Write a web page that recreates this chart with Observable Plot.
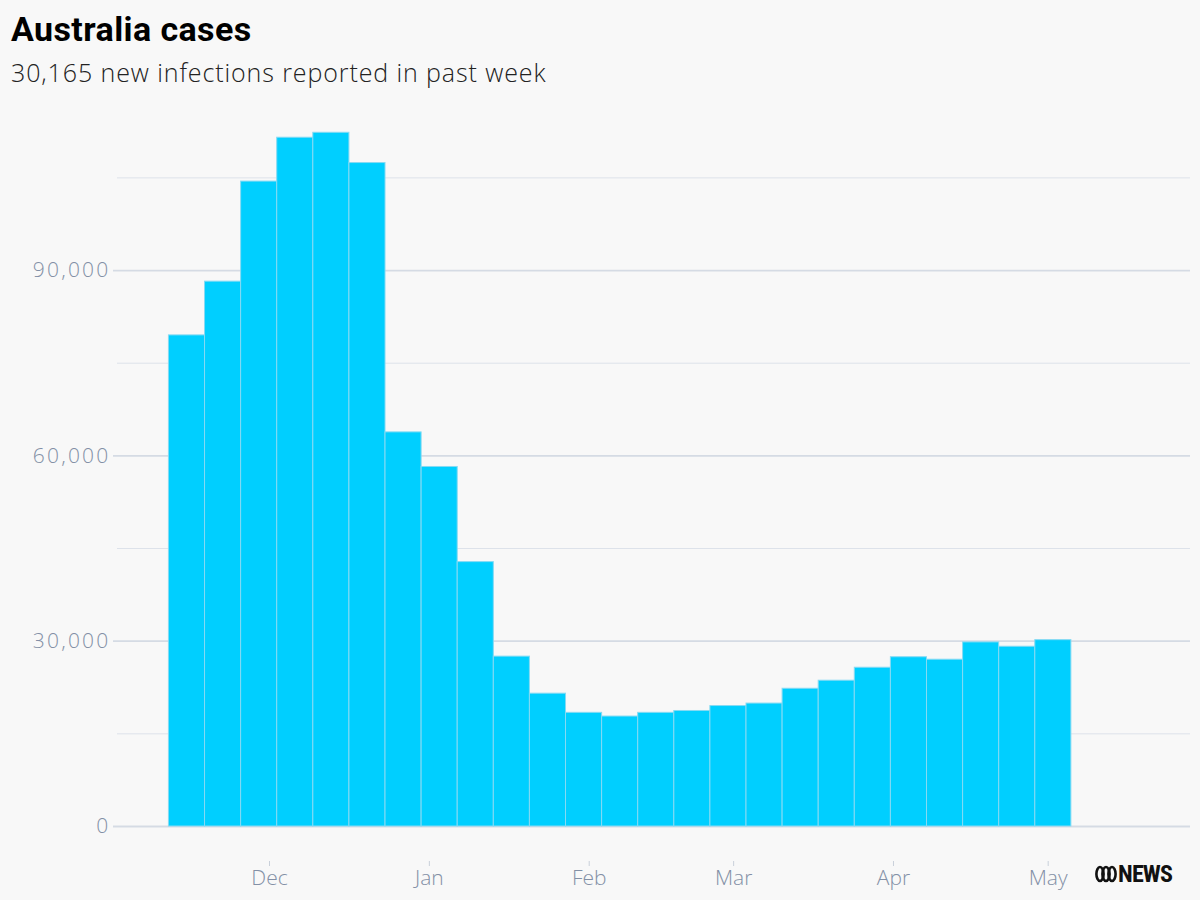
<!DOCTYPE html>
<html>
<head>
<meta charset="utf-8">
<script src="https://cdn.jsdelivr.net/npm/d3@7"></script>
<script src="https://cdn.jsdelivr.net/npm/@observablehq/plot@0.6"></script>
<style>
  html, body { margin: 0; padding: 0; background: #f8f8f8; width: 1200px; height: 900px; overflow: hidden; }
  #wrap { position: relative; width: 1200px; height: 900px; font-family: Roboto, "Open Sans", sans-serif; }
  #title { position: absolute; left: 11px; top: 9px; font-size: 34px; font-weight: 700; color: #000; letter-spacing: 0.4px; line-height: 40px; white-space: nowrap; }
  #subtitle { position: absolute; left: 11px; top: 55px; font-family: "Open Sans", sans-serif; font-size: 25px; font-weight: 300; color: #222; letter-spacing: 0.9px; line-height: 34px; white-space: nowrap; }
  #chart { position: absolute; left: 0; top: 100px; }
  #logo { position: absolute; left: 1095px; top: 862px; display: flex; align-items: center; font-family: "Roboto Condensed", Roboto, sans-serif; font-weight: 700; font-size: 24px; color: #111; letter-spacing: -0.8px; line-height: 24px; }
  #logo svg { margin-right: 1px; }
  [aria-label="y-axis tick label"] text { letter-spacing: 2.2px; }
</style>
</head>
<body>
<div id="wrap">
  <div id="title">Australia cases</div>
  <div id="subtitle">30,165 new infections reported in past week</div>
  <div id="chart"></div>
  <div id="logo"><svg width="22" height="18" viewBox="0 0 22 18"><g fill="none" stroke="#111" stroke-width="2.6"><ellipse cx="5" cy="9" rx="3.6" ry="7"/><ellipse cx="11" cy="9" rx="3.6" ry="7"/><ellipse cx="17" cy="9" rx="3.6" ry="7"/></g></svg><span>NEWS</span></div>
</div>
<script>
// Week start dates (each bar covers 7 days)
const weekStarts = [
  "2022-11-11","2022-11-18","2022-11-25","2022-12-02","2022-12-09","2022-12-16",
  "2022-12-23","2022-12-30","2023-01-06","2023-01-13","2023-01-20","2023-01-27",
  "2023-02-03","2023-02-10","2023-02-17","2023-02-24","2023-03-03","2023-03-10",
  "2023-03-17","2023-03-24","2023-03-31","2023-04-07","2023-04-14","2023-04-21","2023-04-28"
];
// Weekly new cases
const weeklyCases = [
  79500, 88200, 104400, 111500, 112300, 107400,
  63800, 58200, 42800, 27500, 21500, 18400,
  17800, 18400, 18700, 19500, 19900, 22300,
  23600, 25700, 27400, 27000, 29800, 29100, 30165
];
// Axis ticks
const monthTicks = ["2022-12-01","2023-01-01","2023-02-01","2023-03-01","2023-04-01","2023-05-01"];
const yLabelTicks = [0, 30000, 60000, 90000];
const yMinorTicks = [15000, 45000, 75000, 105000];
const xDomain = ["2022-11-01T12:40Z", "2023-05-28T14:20Z"];
const yDomain = [0, 115000];

const parse = s => new Date(s + (s.length === 10 ? "T00:00Z" : ""));
const data = weekStarts.map((s, i) => {
  const start = d3.utcHour.offset(parse(s), 12);
  return { start, end: d3.utcDay.offset(start, 7), cases: weeklyCases[i] };
});

const labelColor = "#8390a6";
const chart = Plot.plot({
  width: 1200,
  height: 800,
  marginLeft: 117,
  marginRight: 10,
  marginTop: 15.6,
  marginBottom: 74,
  style: { background: "transparent", fontFamily: "'Open Sans', sans-serif", fontWeight: 300 },
  x: { type: "utc", domain: xDomain.map(d => new Date(d)) },
  y: { domain: yDomain },
  marks: [
    Plot.ruleY(yMinorTicks, { stroke: "#dde2ea", strokeWidth: 1 }),
    Plot.ruleY(yLabelTicks, { stroke: "#d5dbe4", strokeWidth: 1.8, insetLeft: -4 }),
    Plot.rectY(data, { x1: "start", x2: "end", y: "cases", fill: "#00cfff", stroke: "#86daf3", strokeWidth: 1 }),
    Plot.axisY(yLabelTicks, { tickSize: 0, tickPadding: 7, tickFormat: d3.format(","), fontSize: 21, fill: labelColor, label: null }),
    Plot.axisX(monthTicks.map(parse), { tickSize: 5, tickPadding: 4, dy: 35, stroke: "#c9d0da", fontSize: 21, fill: labelColor, tickFormat: d3.utcFormat("%b"), label: null })
  ]
});
document.getElementById("chart").appendChild(chart);
</script>
</body>
</html>
